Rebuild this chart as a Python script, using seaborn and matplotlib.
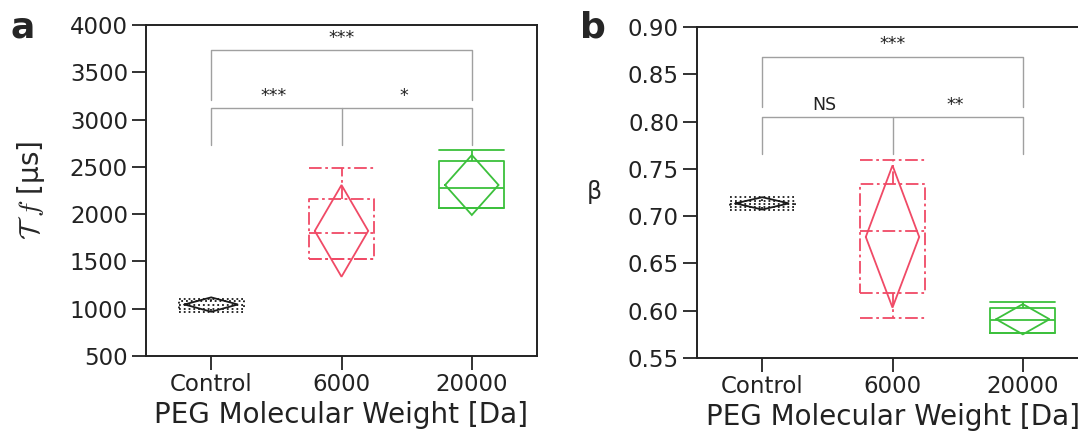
import numpy as np
import pandas as pd
import matplotlib
matplotlib.use("Agg")
import matplotlib.pyplot as plt
import seaborn as sns

# ---- data -------------------------------------------------------------
groups = ["Control", "6000", "20000"]
colors = ["#1a1a1a", "#f04a66", "#3cc03c"]

# panel a: fluorescence lifetime tau_f [us]
tau_min = [960, 1522, 2062]
tau_q1 = [1000, 1522, 2062]
tau_med = [1040, 1800, 2273]
tau_q3 = [1085, 2157, 2562]
tau_max = [1105, 2485, 2678]
tau_mean = [1045, 1823, 2308]
tau_ci_lo = [968, 1338, 1991]
tau_ci_hi = [1120, 2308, 2625]

# panel b: stretching exponent beta
beta_min = [0.7066, 0.592, 0.5768]
beta_q1 = [0.7094, 0.619, 0.5768]
beta_med = [0.7130, 0.684, 0.5903]
beta_q3 = [0.7158, 0.734, 0.6033]
beta_max = [0.7200, 0.759, 0.6087]
beta_mean = [0.7135, 0.678, 0.5910]
beta_ci_lo = [0.7070, 0.6033, 0.5750]
beta_ci_hi = [0.7200, 0.7536, 0.6070]

# significance annotations: (left group, right group, label)
tau_sig = [(0, 2, "***"), (0, 1, "***"), (1, 2, "*")]
beta_sig = [(0, 2, "***"), (0, 1, "NS"), (1, 2, "**")]

# ---- style ------------------------------------------------------------
sns.set_theme(style="ticks")
plt.rcParams["font.family"] = ["DejaVu Sans"]
plt.rcParams["mathtext.fontset"] = "cm"
plt.rcParams.update({
    "axes.edgecolor": "#222222",
    "axes.linewidth": 1.4,
    "xtick.major.size": 10,
    "ytick.major.size": 10,
    "xtick.major.width": 1.3,
    "ytick.major.width": 1.3,
    "xtick.major.pad": 2,
    "ytick.major.pad": 3,
    "xtick.color": "#222222",
    "ytick.color": "#222222",
    "xtick.labelsize": 16.5,
    "ytick.labelsize": 16.5,
})

box_styles = [":", (0, (7, 2, 1.5, 2)), "-"]
lw = 1.3


def five_number_frame(mins, q1s, meds, q3s, maxs):
    rows = []
    for g, a, b, c, d, e in zip(groups, mins, q1s, meds, q3s, maxs):
        for v in (a, b, c, d, e):
            rows.append({"group": g, "value": v})
    return pd.DataFrame(rows)


def draw_panel(ax, df, means, ci_lo, ci_hi):
    for i, g in enumerate(groups):
        ls = box_styles[i]
        props = dict(linestyle=ls, linewidth=lw)
        sns.boxplot(
            data=df[df["group"] == g], x="group", y="value", order=groups,
            color=colors[i], saturation=1, fill=False, width=0.5,
            whis=(0, 100), showfliers=False, linewidth=lw,
            boxprops=props, whiskerprops=props, capprops=props,
            medianprops=props, capwidths=0.5, ax=ax,
        )
    # mean diamonds (confidence interval)
    h = 0.205
    for i in range(len(groups)):
        xs = [i - h, i, i + h, i, i - h]
        ys = [means[i], ci_hi[i], means[i], ci_lo[i], means[i]]
        ax.plot(xs, ys, color=colors[i], lw=lw, solid_joinstyle="miter")


def draw_brackets(ax, sig, outer_top, outer_bot, inner_top, inner_bot,
                  outer_text_y, inner_text_y):
    c = "#a0a0a0"
    (l0, r0, t0) = sig[0]
    ax.plot([l0, l0, r0, r0], [outer_bot, outer_top, outer_top, outer_bot],
            color=c, lw=1.0)
    ax.text((l0 + r0) / 2, outer_text_y, t0, ha="center", va="center",
            fontsize=12.5, color="#222222")
    ax.plot([0, 0, 2, 2], [inner_bot, inner_top, inner_top, inner_bot],
            color=c, lw=1.0)
    ax.plot([1, 1], [inner_top, inner_bot], color=c, lw=1.0)
    for (l, r, t) in sig[1:]:
        ax.text((l + r) / 2 - 0.02, inner_text_y, t, ha="center", va="center",
                fontsize=12.5, color="#222222")


fig = plt.figure(figsize=(10.78, 4.38), dpi=100)
ax_a = fig.add_axes([146 / 1078, 82 / 438, 391 / 1078, 331 / 438])
ax_b = fig.add_axes([697 / 1078, 80 / 438, 391 / 1078, 331 / 438])

df_a = five_number_frame(tau_min, tau_q1, tau_med, tau_q3, tau_max)
draw_panel(ax_a, df_a, tau_mean, tau_ci_lo, tau_ci_hi)
ax_a.set_ylim(500, 4000)
ax_a.set_yticks(np.arange(500, 4001, 500))
draw_brackets(ax_a, tau_sig, 3736, 3207, 3119, 2731, 3860, 3245)
ax_a.set_ylabel(r"$\mathcal{T}\ f$ [μs]", fontsize=20, labelpad=16)

df_b = five_number_frame(beta_min, beta_q1, beta_med, beta_q3, beta_max)
draw_panel(ax_b, df_b, beta_mean, beta_ci_lo, beta_ci_hi)
ax_b.set_ylim(0.55, 0.90)
ax_b.set_yticks(np.arange(0.55, 0.901, 0.05))
ax_b.yaxis.set_major_formatter(matplotlib.ticker.FormatStrFormatter("%.2f"))
draw_brackets(ax_b, beta_sig, 0.8685, 0.8155, 0.8048, 0.766, 0.8825, 0.8175)
ax_b.set_ylabel("β", fontsize=17, rotation=0, labelpad=24, va="center")

for ax in (ax_a, ax_b):
    ax.set_xlim(-0.5, 2.5)
    ax.set_xlabel("PEG Molecular Weight [Da]", fontsize=20, labelpad=4,
                  color="#222222")
    for s in ax.spines.values():
        s.set_visible(True)

fig.text(10 / 1078, 1 - 38 / 438, "a", fontsize=26, fontweight="bold")
fig.text(580 / 1078, 1 - 38 / 438, "b", fontsize=26, fontweight="bold")

fig.savefig("out.png", dpi=100)
